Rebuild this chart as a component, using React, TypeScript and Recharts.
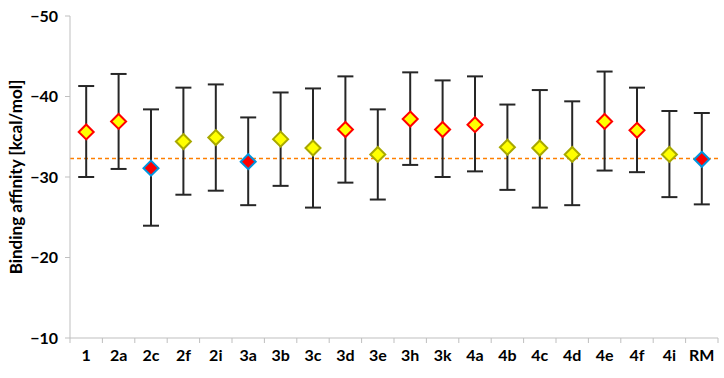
import React from 'react';
import { ComposedChart, Scatter, ErrorBar, XAxis, YAxis, ReferenceLine } from 'recharts';

const compounds = ['1', '2a', '2c', '2f', '2i', '3a', '3b', '3c', '3d', '3e', '3h', '3k', '4a', '4b', '4c', '4d', '4e', '4f', '4i', 'RM'];
const affinity = [-35.6, -36.9, -31.1, -34.4, -34.9, -31.9, -34.7, -33.6, -35.9, -32.8, -37.2, -35.9, -36.5, -33.7, -33.6, -32.8, -36.9, -35.8, -32.8, -32.2];
const rangeMin = [-41.3, -42.8, -38.4, -41.1, -41.5, -37.4, -40.5, -41.0, -42.5, -38.4, -43.0, -42.0, -42.5, -39.0, -40.8, -39.4, -43.1, -41.1, -38.2, -37.95];
const rangeMax = [-30.0, -31.0, -23.95, -27.8, -28.3, -26.5, -28.9, -26.2, -29.3, -27.2, -31.5, -30.0, -30.7, -28.4, -26.2, -26.5, -30.8, -30.6, -27.5, -26.6];
const markerType = ['good', 'good', 'ref', 'plain', 'plain', 'ref', 'plain', 'plain', 'good', 'plain', 'good', 'good', 'good', 'plain', 'plain', 'plain', 'good', 'good', 'plain', 'ref'];
const referenceValue = -32.3;
const yTicks = [-50, -40, -30, -20, -10];

const markerStyle: Record<string, { fill: string; stroke: string }> = {
  good: { fill: '#FFFF00', stroke: '#FF0000' },
  ref: { fill: '#FF0000', stroke: '#0094DE' },
  plain: { fill: '#FFFF00', stroke: '#A8A800' },
};

const data = compounds.map((name, i) => ({
  name,
  value: affinity[i],
  err: [affinity[i] - rangeMin[i], rangeMax[i] - affinity[i]],
  kind: markerType[i],
}));

const FONT = 'Lato, "Open Sans", sans-serif';
const HALF_BAND = 16.2;

const Diamond = (props: any) => {
  const { cx, cy, payload } = props;
  if (cx == null || cy == null) return null;
  const s = markerStyle[payload.kind];
  const r = 7.5;
  return (
    <path
      d={`M${cx},${cy - r} L${cx + r},${cy} L${cx},${cy + r} L${cx - r},${cy} Z`}
      fill={s.fill}
      stroke={s.stroke}
      strokeWidth={2}
    />
  );
};

const XTick = (props: any) => {
  const { x, y, payload, index } = props;
  return (
    <g>
      <line x1={x - HALF_BAND} x2={x - HALF_BAND} y1={y - 8} y2={y - 3} stroke="#BFBFBF" />
      {index === compounds.length - 1 && (
        <line x1={x + HALF_BAND} x2={x + HALF_BAND} y1={y - 8} y2={y - 3} stroke="#BFBFBF" />
      )}
      <text x={x} y={y + 15} textAnchor="middle" fontFamily={FONT} fontWeight="bold" fontSize={16} fill="#000">
        {payload.value}
      </text>
    </g>
  );
};

export default function App() {
  return (
    <div style={{ position: 'absolute', left: 0, top: 0, background: '#fff' }}>
      <ComposedChart width={724} height={378} data={data} margin={{ top: 16, right: 6, bottom: 0, left: 0 }}>
        <XAxis
          dataKey="name"
          type="category"
          stroke="#BFBFBF"
          tickLine={false}
          tick={<XTick />}
          height={40}
          interval={0}
          padding={{ left: HALF_BAND, right: HALF_BAND }}
        />
        <YAxis
          type="number"
          domain={[-50, -10]}
          reversed
          ticks={yTicks}
          width={70}
          stroke="#BFBFBF"
          tickSize={5}
          tickMargin={7}
          tickFormatter={(v: number) => String(v).replace('-', '\u2212')}
          tick={{ fill: '#000', fontFamily: FONT, fontWeight: 'bold', fontSize: 16 }}
          label={{
            value: 'Binding affinity [kcal/mol]',
            angle: -90,
            position: 'insideLeft',
            offset: 16,
            style: { textAnchor: 'middle', fill: '#000', fontFamily: FONT, fontWeight: 'bold', fontSize: 17 },
          }}
        />
        <ReferenceLine y={referenceValue} stroke="#FF7F00" strokeWidth={1.5} strokeDasharray="4 3" />
        <Scatter dataKey="value" shape={<Diamond />} isAnimationActive={false}>
          <ErrorBar dataKey="err" direction="y" width={8} stroke="#262626" strokeWidth={2} />
        </Scatter>
      </ComposedChart>
    </div>
  );
}
